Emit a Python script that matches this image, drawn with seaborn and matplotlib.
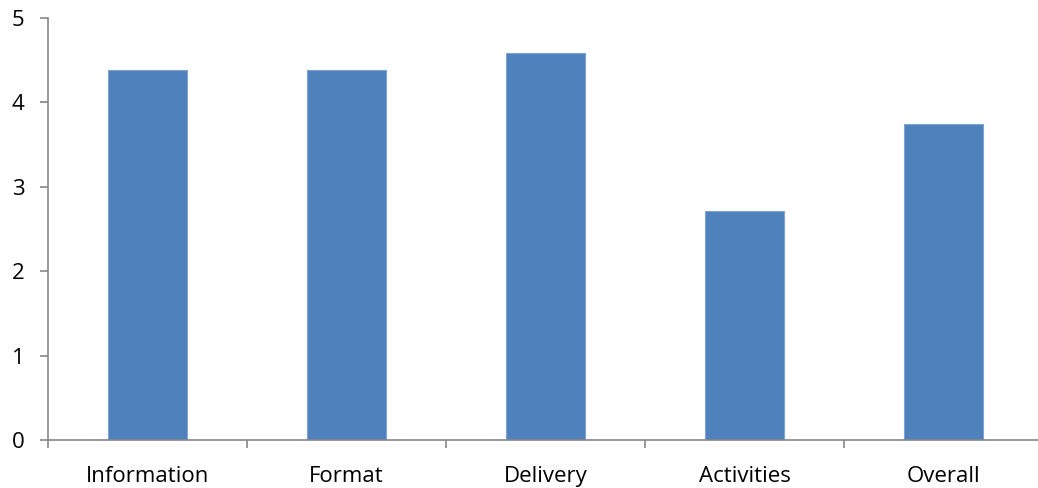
import matplotlib
matplotlib.use("Agg")
import matplotlib.pyplot as plt
import seaborn as sns
import pandas as pd
import numpy as np

categories = ["Information", "Format", "Delivery", "Activities", "Overall"]
values = [4.38, 4.38, 4.59, 2.71, 3.75]

sns.set_theme(style="white")
plt.rcParams['font.family'] = ['Open Sans', 'DejaVu Sans']

df = pd.DataFrame({"category": categories, "value": values})

fig = plt.figure(figsize=(10.38, 4.88), dpi=100)
ax = fig.add_axes([48/1038, 48/488, 995/1038, 422/488])
sns.barplot(data=df, x="category", y="value", color="#4F81BD", width=0.4,
            saturation=1, edgecolor="#7FA3D3", linewidth=0.8, ax=ax)

ax.set_ylim(0, 5)
ax.set_xlim(-0.5, len(categories) - 0.5)
ax.set_yticks([0, 1, 2, 3, 4, 5])
ax.set_xlabel("")
ax.set_ylabel("")

for s in ["top", "right"]:
    ax.spines[s].set_visible(False)
for s in ["left", "bottom"]:
    ax.spines[s].set_color("#868686")
    ax.spines[s].set_linewidth(1.2)

ax.tick_params(axis="y", which="major", direction="out", length=6, width=1.2,
               color="#868686", labelsize=16, labelcolor="black", pad=11, left=True)
ax.tick_params(axis="x", which="major", length=0, labelsize=16, labelcolor="black", pad=19)
ax.set_xticks(np.arange(len(categories)) - 0.5, minor=True)
ax.tick_params(axis="x", which="minor", direction="out", length=6, width=1.2,
               color="#868686", bottom=True)

fig.savefig("out.png", dpi=100)
